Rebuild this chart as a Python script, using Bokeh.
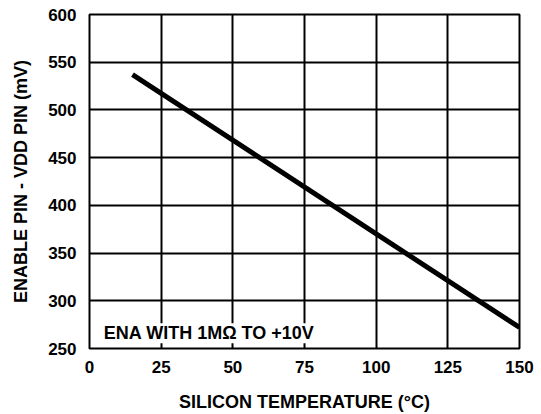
from bokeh.plotting import figure
from bokeh.models import Label, FixedTicker, Range1d
from bokeh.embed import file_html
from bokeh.resources import INLINE

temperature_c = [15, 150]
enable_minus_vdd_mv = [537, 272]
x_ticks = [0, 25, 50, 75, 100, 125, 150]
y_ticks = [250, 300, 350, 400, 450, 500, 550, 600]
annotation = "ENA WITH 1M\u03a9 TO +10V"

FONT = "Liberation Sans"

p = figure(width=541, height=414, output_backend="svg", toolbar_location=None,
           x_range=Range1d(0, 150), y_range=Range1d(250, 600),
           min_border_left=89, min_border_right=22, min_border_top=14, min_border_bottom=66)

p.line(temperature_c, enable_minus_vdd_mv, line_color="black", line_width=5)

p.outline_line_color = "black"
p.outline_line_width = 2
p.outline_line_alpha = 1

for ax, ticks in ((p.xaxis[0], x_ticks), (p.yaxis[0], y_ticks)):
    ax.ticker = FixedTicker(ticks=ticks)
    ax.axis_line_color = None
    ax.major_tick_line_color = None
    ax.minor_tick_line_color = None
    ax.major_label_text_font = FONT
    ax.major_label_text_font_style = "bold"
    ax.major_label_text_font_size = "17px"
    ax.major_label_text_color = "black"
    ax.axis_label_text_font = FONT
    ax.axis_label_text_font_style = "bold"
    ax.axis_label_text_font_size = "18px"
    ax.axis_label_text_color = "black"

p.xaxis.axis_label = "SILICON TEMPERATURE (\u00b0C)"
p.yaxis.axis_label = "ENABLE PIN - VDD PIN (mV)"
p.xaxis.major_label_standoff = 6
p.yaxis.major_label_standoff = 7
p.xaxis.axis_label_standoff = 16
p.yaxis.axis_label_standoff = 14

for g in (p.xgrid[0], p.ygrid[0]):
    g.grid_line_color = "black"
    g.grid_line_width = 2
    g.grid_line_alpha = 1
p.xgrid.ticker = FixedTicker(ticks=x_ticks)
p.ygrid.ticker = FixedTicker(ticks=y_ticks)

lab = Label(x=5, y=266, text=annotation, text_font=FONT, text_font_style="bold",
            text_font_size="18px", text_color="black",
            background_fill_color="white", background_fill_alpha=1,
            text_baseline="alphabetic")
p.add_layout(lab)

open("out.html", "w").write(file_html(p, INLINE))
